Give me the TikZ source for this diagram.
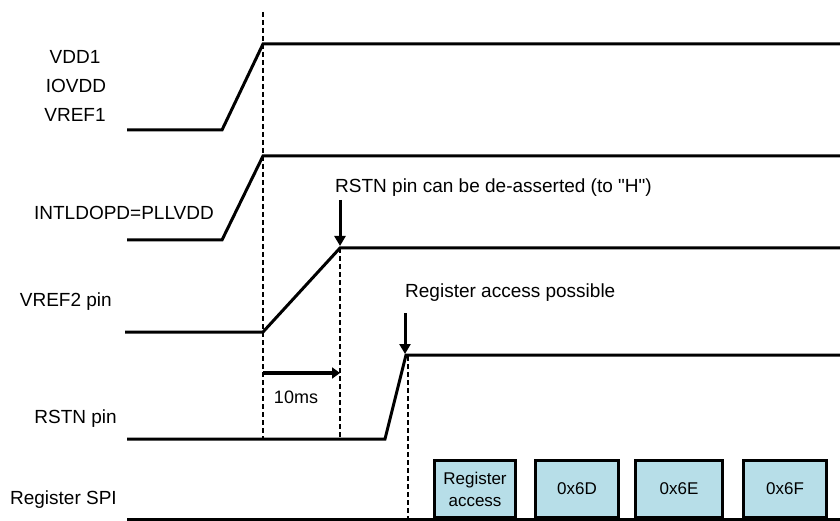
\documentclass[tikz,border=0pt]{standalone}
\usepackage{fontspec}
\setmainfont{Liberation Sans}[Ligatures=TeXOff]
\usetikzlibrary{arrows.meta}
\definecolor{regblue}{HTML}{B7DEE8}
\begin{document}
\begin{tikzpicture}[x=1pt,y=-1pt,
  sig/.style={line width=3pt, line join=miter},
  guide/.style={line width=1.3pt, dash pattern=on 5pt off 3pt},
  lbl/.style={font=\fontsize{19}{22}\selectfont, inner sep=0pt},
  pointer/.style={line width=3pt, -{Triangle[length=10pt,width=11pt]}},
  regbox/.style={draw, line width=2.7pt, fill=regblue, minimum height=57.5pt,
    inner sep=0pt, align=center, font=\fontsize{17}{22}\selectfont}]
\useasboundingbox (0,0) rectangle (840,521);

% signal names
\node[lbl] (nvdd)  at (75,57)  {VDD1};
\node[lbl] (niov)  at (76,86)  {IOVDD};
\node[lbl] (nvr1)  at (75,115) {VREF1};
\node[lbl, anchor=east] (nintl) at (214,213) {INTLDOPD=PLLVDD};
\node[lbl, anchor=east] (nvr2)  at (112,302) {VREF2 pin};
\node[lbl, anchor=east] (nrst)  at (117,419) {RSTN pin};
\node[lbl, anchor=east] (nspi)  at (117,500) {Register SPI};

% waveform corners
\coordinate (v0) at (127,130); \coordinate (v1) at (222,130);
\coordinate (v2) at (263,44);  \coordinate (v3) at (840,44);
\coordinate (i0) at (127,240); \coordinate (i1) at (222,240);
\coordinate (i2) at (263,156); \coordinate (i3) at (840,156);
\coordinate (r0) at (125,332); \coordinate (r1) at (263,332);
\coordinate (r2) at (340,248); \coordinate (r3) at (840,248);
\coordinate (s0) at (127,439); \coordinate (s1) at (385,439);
\coordinate (s2) at (406,355); \coordinate (s3) at (840,355);
\coordinate (b0) at (127,519); \coordinate (b1) at (840,519);

% timing guides
\coordinate (g1t) at (263,12);  \coordinate (g1b) at (263,438);
\coordinate (g2b) at (340,438);
\coordinate (g3t) at (408,356); \coordinate (g3b) at (408,519);
\draw[guide] (g1t) -- (g1b);
\draw[guide] (r2) -- (g2b);
\draw[guide] (g3t) -- (g3b);

% waveforms
\draw[sig] (v0) -- (v1) -- (v2) -- (v3);
\draw[sig] (i0) -- (i1) -- (i2) -- (i3);
\draw[sig] (r0) -- (r1) -- (r2) -- (r3);
\draw[sig] (s0) -- (s1) -- (s2) -- (s3);
\draw[sig] (b0) -- (b1);

% 10 ms delay
\coordinate (d0) at (263,373); \coordinate (d1) at (340,373);
\draw[pointer, line width=3.5pt, -{Triangle[length=8pt,width=11pt]}] (d0) -- (d1);
\node[lbl, font=\fontsize{18}{22}\selectfont] (ndly) at (296,397) {10ms};

% event markers
\node[lbl, anchor=west] (ndeas) at (335,188) {RSTN pin can be de-asserted (to "H")};
\coordinate (a1) at (340,200); \coordinate (a1e) at (340,246);
\draw[pointer] (a1) -- (a1e);
\node[lbl, anchor=west] (nacc) at (405,293) {Register access possible};
\coordinate (a2) at (405,313); \coordinate (a2e) at (405,354);
\draw[pointer] (a2) -- (a2e);

% register accesses
\node[regbox, minimum width=81.5pt] (ra) at (475,489) {Register\\access};
\node[regbox, minimum width=82.5pt] (r6d) at (577,489) {0x6D};
\node[regbox, minimum width=86.5pt] (r6e) at (679,489) {0x6E};
\node[regbox, minimum width=83.5pt] (r6f) at (785,489) {0x6F};
\end{tikzpicture}
\end{document}
